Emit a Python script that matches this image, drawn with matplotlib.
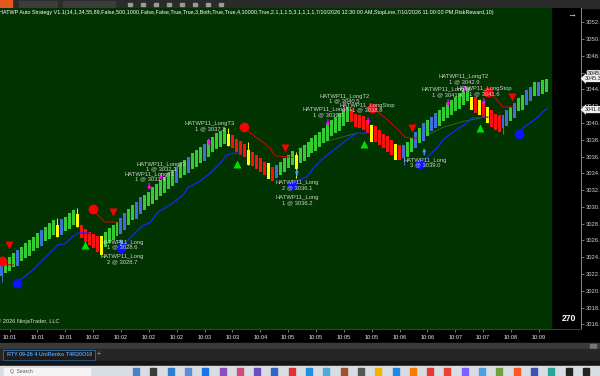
import matplotlib
matplotlib.use("Agg")
import matplotlib.pyplot as plt
from matplotlib.patches import Rectangle

plt.rcParams['font.family'] = ['Liberation Sans', 'DejaVu Sans']

# UniRenko bars (one slot per bar)
opens = [3021.8, 3022.1, 3022.4, 3022.8, 3023.0, 3023.5, 3023.9, 3024.2, 3024.7, 3025.1,
         3025.4, 3025.9, 3026.2, 3026.6, 3027.9, 3026.6, 3027.1, 3027.4, 3027.8, 3029.1,
         3027.9, 3027.4, 3027.0, 3026.8, 3026.5, 3026.5, 3025.2, 3025.7, 3026.0, 3026.5,
         3026.8, 3027.3, 3027.8, 3028.4, 3028.6, 3029.2, 3029.6, 3030.1, 3030.4, 3030.8,
         3031.3, 3031.7, 3032.1, 3032.5, 3032.8, 3033.4, 3033.8, 3034.0, 3034.5, 3034.8,
         3035.2, 3035.5, 3036.0, 3036.5, 3036.9, 3037.2, 3037.5, 3038.7, 3038.6, 3038.1,
         3037.9, 3037.5, 3036.8, 3036.6, 3036.2, 3035.8, 3035.4, 3035.2, 3034.8, 3033.4,
         3033.8, 3034.2, 3034.6, 3035.0, 3036.2, 3035.2, 3035.5, 3036.0, 3036.4, 3036.7,
         3037.2, 3037.6, 3037.9, 3038.4, 3038.8, 3039.1, 3039.7, 3040.1, 3041.7, 3041.1,
         3041.0, 3040.8, 3040.4, 3039.8, 3039.6, 3039.2, 3038.7, 3038.4, 3038.0, 3037.5,
         3037.4, 3035.8, 3036.0, 3036.5, 3037.0, 3037.6, 3037.9, 3038.5, 3039.0, 3039.4,
         3039.7, 3040.2, 3040.6, 3040.9, 3041.4, 3041.7, 3042.1, 3042.6, 3043.1, 3043.1,
         3042.8, 3042.5, 3041.9, 3041.6, 3041.1, 3041.0, 3039.4, 3039.6, 3040.2, 3040.6,
         3041.4, 3041.5, 3042.1, 3042.6, 3043.2, 3043.2, 3043.5, 3043.7]
closes = [3023.3, 3023.7, 3024.0, 3024.5, 3024.9, 3025.2, 3025.7, 3026.1, 3026.4, 3026.9,
          3027.2, 3027.6, 3028.1, 3028.4, 3026.4, 3028.6, 3028.8, 3029.3, 3029.6, 3027.6,
          3026.3, 3025.8, 3025.5, 3025.1, 3024.6, 3024.3, 3027.0, 3027.5, 3027.8, 3028.2,
          3028.7, 3029.3, 3029.7, 3030.2, 3030.6, 3031.2, 3031.4, 3031.8, 3032.4, 3032.7,
          3033.2, 3033.6, 3034.0, 3034.4, 3034.8, 3035.2, 3035.6, 3035.9, 3036.4, 3036.8,
          3037.1, 3037.5, 3038.0, 3038.3, 3038.8, 3039.0, 3039.4, 3037.3, 3037.0, 3036.5,
          3036.2, 3035.9, 3035.0, 3034.9, 3034.5, 3034.2, 3033.8, 3033.3, 3033.1, 3035.0,
          3035.4, 3035.8, 3036.2, 3036.7, 3034.5, 3037.0, 3037.4, 3037.7, 3038.2, 3038.6,
          3038.9, 3039.4, 3039.9, 3040.4, 3040.7, 3041.2, 3041.5, 3041.9, 3040.1, 3039.5,
          3039.4, 3039.2, 3038.8, 3037.7, 3037.7, 3037.4, 3037.0, 3036.5, 3036.2, 3035.6,
          3035.6, 3037.4, 3037.7, 3038.2, 3038.9, 3039.4, 3040.0, 3040.4, 3040.7, 3041.2,
          3041.5, 3041.9, 3042.4, 3042.7, 3043.1, 3043.6, 3043.9, 3044.2, 3041.5, 3041.2,
          3041.0, 3040.6, 3040.0, 3039.5, 3039.2, 3038.9, 3041.0, 3041.5, 3041.9, 3042.4,
          3043.0, 3043.3, 3043.9, 3044.3, 3044.9, 3044.9, 3045.1, 3045.3]
kinds = list("BGGGBGGGGG" "BGGGYBGGGY" "RRRRRYGGGG" "BBGGBBGGGG" "GGGGBGGBGG"
             "GBGGGGGYRR" "RRYRRRRYRB" "GGGGYGGGGG" "GGGGGGGGRR" "RRRYRRRRRY"
             "RBGGBGBGBB" "GGGGGGGGYR" "YRYRRRBBGB" "GGBBGBGG")
wick_idx = [0, 14, 19, 57, 62, 74, 101, 126]
wick_low = [3021.0, 3026.4, 3027.6, 3037.3, 3035.0, 3033.4, 3035.0, 3038.7]
wick_high = [3023.3, 3028.7, 3029.9, 3039.4, 3037.7, 3036.5, 3037.4, 3041.0]

# signal markers
red_dot_x = [0.1, 23.0, 60.9, 93.1, 122.2]
red_dot_y = [3023.5, 3029.7, 3039.5, 3041.8, 3043.7]
blue_dot_x = [3.9, 30.0, 73.0, 105.1, 130.0]
blue_dot_y = [3020.9, 3025.1, 3032.6, 3035.1, 3038.7]
sell_tri_x = [1.9, 28.0, 71.2, 103.1, 128.3]
sell_tri_y = [3025.5, 3029.4, 3037.0, 3039.4, 3043.1]
buy_tri_x = [21.0, 59.2, 91.1, 120.2]
buy_tri_y = [3025.5, 3035.1, 3037.5, 3039.4]

# stop line (red) and trailing line (blue) segments
stop_lines = [
    ([0.1, 1.0, 2.9], [3023.5, 3023.1, 3023.1]),
    ([23.0, 24.0, 26.0, 29.0], [3029.7, 3029.1, 3028.2, 3028.2]),
    ([60.9, 62.9, 64.2, 65.7, 67.5, 68.7, 73.0], [3039.4, 3038.7, 3038.2, 3037.7, 3037.0, 3036.1, 3035.9]),
    ([93.1, 95.1, 96.4, 98.1, 100.1, 101.4, 104.4], [3041.8, 3041.1, 3040.6, 3039.9, 3039.0, 3038.3, 3038.2]),
    ([122.2, 124.0, 126.0, 128.5], [3043.7, 3043.0, 3041.9, 3041.9]),
]
trail_lines = [
    ([3.9, 7.9, 12.9, 14.2, 15.9, 17.7, 19.2, 21.7, 22.2],
     [3021.0, 3022.5, 3024.9, 3025.5, 3025.6, 3026.4, 3026.9, 3026.9, 3026.8]),
    ([30.3, 32.3, 35.5, 37.3, 39.1, 43.1, 45.6, 46.8, 48.1, 49.9, 52.4, 54.9, 56.6, 58.2, 59.9],
     [3025.2, 3026.3, 3027.8, 3028.1, 3029.3, 3030.5, 3031.4, 3032.3, 3032.6, 3033.1, 3034.0,
      3035.2, 3036.2, 3036.4, 3036.4]),
    ([73.0, 74.5, 76.8, 78.3, 80.8, 84.3, 87.6, 89.3, 91.8],
     [3032.6, 3033.2, 3033.6, 3034.6, 3035.8, 3037.1, 3038.3, 3038.8, 3038.8]),
    ([104.9, 106.9, 109.4, 110.9, 113.4, 116.9, 118.2, 121.0, 122.2],
     [3035.1, 3035.9, 3037.0, 3038.0, 3038.9, 3040.0, 3040.6, 3040.7, 3040.7]),
    ([130.0, 131.0, 132.8, 134.5, 136.1, 137.1],
     [3038.7, 3039.4, 3040.0, 3040.6, 3041.4, 3041.7]),
]
faint_lines = [
    ([74.5, 77.5, 83.0, 89.3], [3036.9, 3037.4, 3038.0, 3038.8]),
    ([107.0, 111.0, 116.0, 121.5], [3038.6, 3039.5, 3040.2, 3040.7]),
]

# executions
entry_x = [30.0, 74.2, 106.2]
entry_y = [3026.2, 3034.5, 3037.0]
exit_x = [37.1, 40.1, 52.1, 82.0, 86.1, 92.1, 112.2, 116.2, 121.2]
exit_y = [3032.0, 3033.2, 3037.3, 3039.6, 3041.2, 3039.8, 3042.0, 3043.6, 3042.1]
fill_labels = ["HATWP11_Long\n1 @ 3028.6", "HATWP11_Long\n2 @ 3028.7",
               "HATWP11_LongT1\n1 @ 3031.4", "HATWP11_LongT2\n1 @ 3032.3",
               "HATWP11_LongT3\n1 @ 3037.2", "HATWP11_Long\n2 @ 3036.1",
               "HATWP11_Long\n1 @ 3036.2", "HATWP11_LongT1\n1 @ 3039.0",
               "HATWP11_LongT2\n1 @ 3040.5", "HATWP11_LongStop\n1 @ 3038.8",
               "HATWP11_Long\n3 @ 3039.0", "HATWP11_LongT1\n1 @ 3041.4",
               "HATWP11_LongT2\n1 @ 3042.9", "HATWP11_LongStop\n1 @ 3041.6"]
label_x = [30.3, 30.3, 37.3, 40.1, 52.4, 74.2, 74.2, 82.0, 86.1, 91.8, 106.4, 111.9, 116.2, 121.2]
label_y = [3025.5, 3023.8, 3033.6, 3034.8, 3039.6, 3032.6, 3030.8, 3041.3, 3042.9, 3041.8,
           3035.3, 3043.7, 3045.2, 3043.8]

price_ticks = list(range(3016, 3053, 2))
time_ticks = [2, 9, 16, 23, 30, 37, 44, 51, 58, 65, 72, 79, 86, 93, 100, 107, 114, 121, 128, 135]
time_labels = ['10:01', '10:01', '10:01', '10:02', '10:02', '10:02', '10:02', '10:03', '10:03', '10:04',
               '10:05', '10:05', '10:05', '10:05', '10:06', '10:06', '10:07', '10:07', '10:08', '10:09']
last_price = 3045.3
trail_price = 3041.6
header = ("HATWP Auto Strategy V1.1(14,1,34,55,89,False,500,1000,False,False,True,True,3,Both,"
          "True,True,4,10000,True,2.1,1,1.5,3,1,1,1,1,7/10/2026 12:30:00 AM,StopLine,"
          "7/10/2026 11:00:00 PM,RiskReward,10)")

kind_color = {'G': '#33cc33', 'B': '#3f6fdc', 'R': '#ff1010', 'Y': '#ffff00'}

fig = plt.figure(figsize=(6, 3.76), dpi=100, facecolor='black')

# window chrome drawn in pixel coords
bg = fig.add_axes([0, 0, 1, 1])
bg.set_xlim(0, 600)
bg.set_ylim(376, 0)
bg.axis('off')
bg.add_patch(Rectangle((0, 0), 600, 8, color='#2b2b2b'))
bg.add_patch(Rectangle((0, 0), 12, 8, color='#e4571d'))
bg.add_patch(Rectangle((19, 1), 38, 6, color='#3c3c3c'))
bg.add_patch(Rectangle((63, 1), 52, 6, color='#3c3c3c'))
for k in range(8):
    bg.add_patch(Rectangle((128 + k * 13, 2.5), 4, 3, color='#9a9a9a'))
bg.add_patch(Rectangle((0, 343), 600, 6, color='#3a3a3a'))
bg.add_patch(Rectangle((590, 343.5), 6, 5, color='#777777'))
bg.add_patch(Rectangle((0, 349), 600, 12, color='#262626'))
bg.add_patch(Rectangle((3, 349.5), 92, 10, facecolor='#1c1c1c', edgecolor='#2f6fae', lw=0.6))
bg.text(7, 354.5, "RTY 09-26 4 UniRenko T4R20O10", color='#4a9be8', fontsize=3.9,
        va='center', ha='left', fontweight='bold')
bg.text(99, 354.5, "+", color='#aaaaaa', fontsize=5, va='center', ha='center')
bg.add_patch(Rectangle((0, 361), 600, 5, color='#151515'))
bg.add_patch(Rectangle((0, 366), 600, 10, color='#d8dce3'))
bg.add_patch(Rectangle((4, 367.5), 86, 8, color='#f4f4f4'))
bg.text(10, 371.5, "Q  Search", color='#555555', fontsize=3.6, va='center')
icon_cols = ['#4a7fc9', '#3b3b3b', '#2f7fd0', '#5b8ed6', '#1a73e8', '#8a4fbf', '#d04a7a',
             '#6a4fbf', '#2e66c4', '#e03030', '#1f8fe0', '#4caad8', '#a0522d', '#555555',
             '#f0b400', '#1e88e5', '#f57c00', '#e53935', '#ea4335', '#7b61ff', '#4aa0e0',
             '#6fa03c', '#ff5722', '#3f51b5', '#26a69a', '#222222', '#222222']
for k, c in enumerate(icon_cols):
    bg.add_patch(Rectangle((133 + k * 17.3, 368), 6, 6.5, color=c))

# main price panel
ax = fig.add_axes([0, 47 / 376, 581 / 600, 321 / 376])
ax.set_facecolor('black')
n = len(closes)
ax.axvspan(-0.4, n + 0.07, color='#023402', zorder=0)
ax.set_xlim(-0.4, 145.6)
ax.set_ylim(3015.45, 3053.71)

xs = list(range(n))
heights = [c - o for o, c in zip(opens, closes)]
cols = [kind_color[k] for k in kinds]
ax.vlines(wick_idx, wick_low, wick_high, colors=[cols[i] for i in wick_idx], lw=0.7, zorder=2)
ax.bar(xs, heights, bottom=opens, width=0.75, color=cols, zorder=3, antialiased=False)

for lx, ly in faint_lines:
    ax.plot(lx, ly, color='#2f6f2f', lw=0.6, zorder=2.5)
for lx, ly in stop_lines:
    ax.plot(lx, ly, color='#d40000', lw=0.8, zorder=4)
for lx, ly in trail_lines:
    ax.plot(lx, ly, color='#1428ff', lw=0.9, zorder=4)

ax.plot(red_dot_x, red_dot_y, 'o', color='#ff0000', ms=7, mec='none', zorder=6)
ax.plot(blue_dot_x, blue_dot_y, 'o', color='#0a14ff', ms=7, mec='none', zorder=6)
ax.plot(sell_tri_x, sell_tri_y, 'v', color='#ff0000', ms=6, mec='none', zorder=6)
ax.plot(buy_tri_x, buy_tri_y, '^', color='#00e000', ms=6, mec='none', zorder=6)

for x, y in zip(entry_x, entry_y):
    ax.annotate('', xy=(x, y), xytext=(x, y - 0.8),
                arrowprops=dict(arrowstyle='-|>', color='#3aa0ff', lw=0.9,
                                mutation_scale=4, shrinkA=0, shrinkB=0), zorder=7)
for x, y in zip(exit_x, exit_y):
    ax.annotate('', xy=(x, y), xytext=(x, y + 0.8),
                arrowprops=dict(arrowstyle='-|>', color='#ff00ff', lw=0.9,
                                mutation_scale=4, shrinkA=0, shrinkB=0), zorder=7)
for t, x, y in zip(fill_labels, label_x, label_y):
    ax.text(x, y, t, color='#cfcfcf', fontsize=4.2, ha='center', va='center',
            linespacing=0.95, zorder=8)

ax.text(-0.002, 0.9875, header, transform=ax.transAxes, color='white', fontsize=3.85,
        ha='left', va='center')
ax.text(-0.006, 0.025, "\u00a9 2026 NinjaTrader, LLC", transform=ax.transAxes, color='#dddddd',
        fontsize=4.1, ha='left', va='center')
ax.text(0.979, 0.034, "270", transform=ax.transAxes, color='white', fontsize=6.2,
        ha='center', va='center', fontweight='bold')
ax.text(0.9845, 0.978, "\u2192", transform=ax.transAxes, color='white', fontsize=6.5,
        ha='center', va='center')

# axes styling
for s in ['left', 'top']:
    ax.spines[s].set_visible(False)
ax.spines['right'].set_color('#8a8a8a')
ax.spines['right'].set_linewidth(0.7)
ax.spines['bottom'].set_color('#3a3a3a')
ax.yaxis.tick_right()
ax.set_yticks(price_ticks)
ax.set_yticklabels([f"{p:.1f}" for p in price_ticks])
ax.tick_params(axis='y', colors='#8a8a8a', labelcolor='#cfcfcf', labelsize=4.2,
               length=2.5, width=0.6, pad=1.2)
ax.set_xticks(time_ticks)
ax.set_xticklabels(time_labels)
ax.tick_params(axis='x', colors='#8a8a8a', labelcolor='#e8e8e8', labelsize=4.1,
               length=2, width=0.6, pad=2.5)

ytr = ax.get_yaxis_transform()
ax.text(1.012, 3045.9, "3045.9", transform=ytr, color='#222222', fontsize=3.9,
        ha='left', va='center', bbox=dict(boxstyle='round,pad=0.2', fc='#d8d8d8', ec='none'))
ax.text(1.006, last_price, f"{last_price:.1f}", transform=ytr, color='#222222', fontsize=3.9,
        ha='left', va='center', bbox=dict(boxstyle='larrow,pad=0.2', fc='#eeeeee', ec='none'))
ax.text(1.006, trail_price, f"{trail_price:.1f}", transform=ytr, color='#222222', fontsize=3.9,
        ha='left', va='center', bbox=dict(boxstyle='larrow,pad=0.2', fc='#eeeeee', ec='none'))

fig.savefig("out.png", dpi=100, facecolor='black')
